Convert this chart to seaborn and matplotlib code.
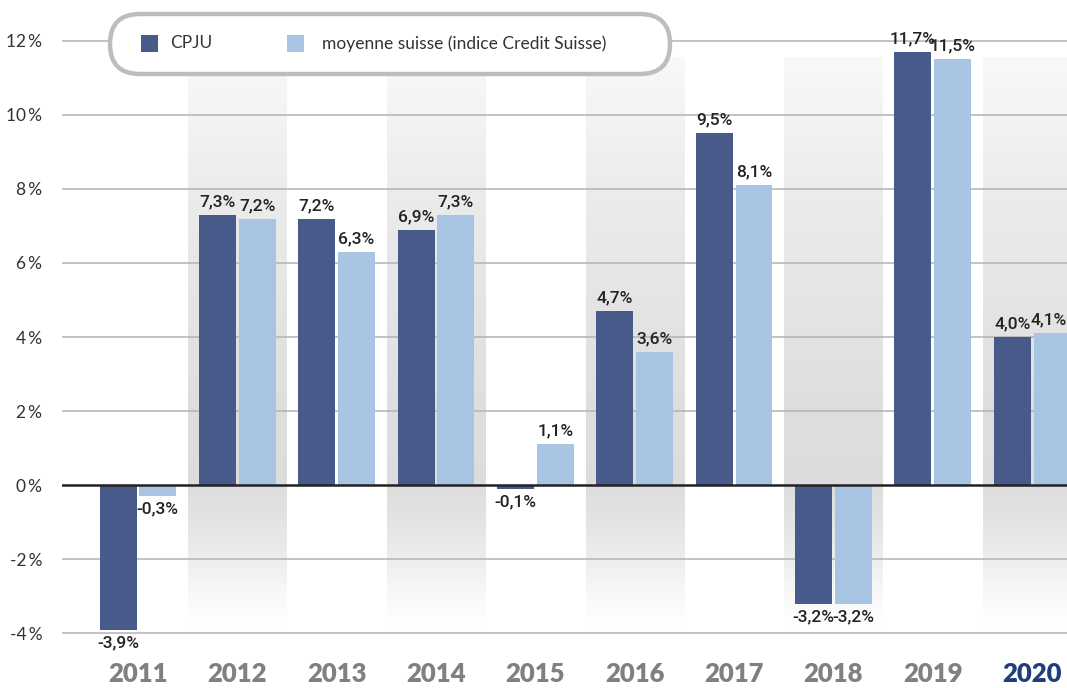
import matplotlib
matplotlib.use("Agg")
import matplotlib.pyplot as plt
import numpy as np
import pandas as pd
import seaborn as sns
from matplotlib.patches import FancyBboxPatch, Rectangle

# --- données ---
years = ["2011", "2012", "2013", "2014", "2015", "2016", "2017", "2018", "2019", "2020"]
cpju = [-3.9, 7.3, 7.2, 6.9, -0.1, 4.7, 9.5, -3.2, 11.7, 4.0]
suisse = [-0.3, 7.2, 6.3, 7.3, 1.1, 3.6, 8.1, -3.2, 11.5, 4.1]
series = ["CPJU", "moyenne suisse (indice Credit Suisse)"]
y_ticks = [-4, -2, 0, 2, 4, 6, 8, 10, 12]

C_CPJU = "#485a8a"
C_CS = "#a8c4e3"

df = pd.DataFrame({
    "year": years * 2,
    "value": cpju + suisse,
    "serie": [series[0]] * len(years) + [series[1]] * len(years),
})

sns.set_theme(style="white")
plt.rcParams["font.family"] = ["Lato", "DejaVu Sans"]

fig = plt.figure(figsize=(10.67, 6.88), dpi=100)
ax = fig.add_axes([0.058, 0.058, 0.942, 0.942])
XMAX = 9.35

# bandes grises en dégradé (années paires)
yb = np.linspace(-3.8, 11.55, 300)
gray = np.interp(yb, [-3.8, -3.0, -1.5, 0.0, 2.0, 8.0, 11.55],
                 [1.0, 0.975, 0.91, 0.865, 0.87, 0.925, 0.975])
grad = np.repeat(gray[:, None], 2, axis=1)
grad_rgb = np.stack([grad, grad, grad], axis=-1)
for i in range(1, len(years), 2):
    ax.imshow(grad_rgb, extent=[i - 0.495, i + 0.495, -3.8, 11.55],
              origin="lower", aspect="auto", zorder=0, interpolation="bilinear")

# grille
for t in y_ticks:
    if t != 0:
        ax.axhline(t, color="#b3b3b3", lw=1.1, zorder=1)

sns.barplot(data=df, x="year", y="value", hue="serie", palette=[C_CPJU, C_CS],
            width=0.8, gap=0.07, ax=ax, legend=False, zorder=3, saturation=1,
            linewidth=0, edgecolor="none")

ax.axhline(0, color="#222222", lw=1.8, zorder=4)

for cont, vals in zip(ax.containers, [cpju, suisse]):
    labels = [f"{v:.1f}".replace(".", ",") + "%" for v in vals]
    txts = ax.bar_label(cont, labels=labels, padding=4, fontsize=12.5, fontweight="medium",
                        color="#222222", zorder=5, family=["Roboto", "DejaVu Sans"])
# dernière étiquette collée au bord droit
last = txts[-1]
last.xy = (XMAX, last.xy[1])
last.set_ha("right")

ax.set_xlim(-0.765, XMAX)
ax.set_ylim(-4.4, 13.1)
ax.set_yticks(y_ticks)
ax.set_yticklabels([f"{t}\u2009%" for t in y_ticks], fontsize=12.5, color="#333333")
ax.tick_params(axis="y", length=0, pad=14)
ax.tick_params(axis="x", length=0, pad=10)
ax.set_xticks(range(len(years)))
ax.set_xticklabels(years, fontsize=18.5, fontweight="heavy", color="#808080")
ax.get_xticklabels()[-1].set_color("#1f3f7a")
ax.set_xlabel("")
ax.set_ylabel("")
for s in ax.spines.values():
    s.set_visible(False)

# légende arrondie (en pouces)
tr = fig.dpi_scale_trans
box = FancyBboxPatch((1.10, 6.14), 5.60, 0.60, boxstyle="round,pad=0,rounding_size=0.30",
                     transform=tr, facecolor="white", edgecolor="#bdbdc0",
                     lw=3.2, zorder=10)
fig.patches.append(box)
for xs, c in [(1.405, C_CPJU), (2.87, C_CS)]:
    fig.patches.append(Rectangle((xs, 6.36), 0.17, 0.17, transform=tr,
                                 facecolor=c, edgecolor="none", zorder=11))
fig.text(1.70, 6.445, series[0], fontsize=12.5, color="#333333", va="center",
         zorder=12, transform=tr)
fig.text(3.22, 6.445, series[1], fontsize=12.5, color="#333333", va="center",
         zorder=12, transform=tr)

fig.savefig("out.png", dpi=100)
